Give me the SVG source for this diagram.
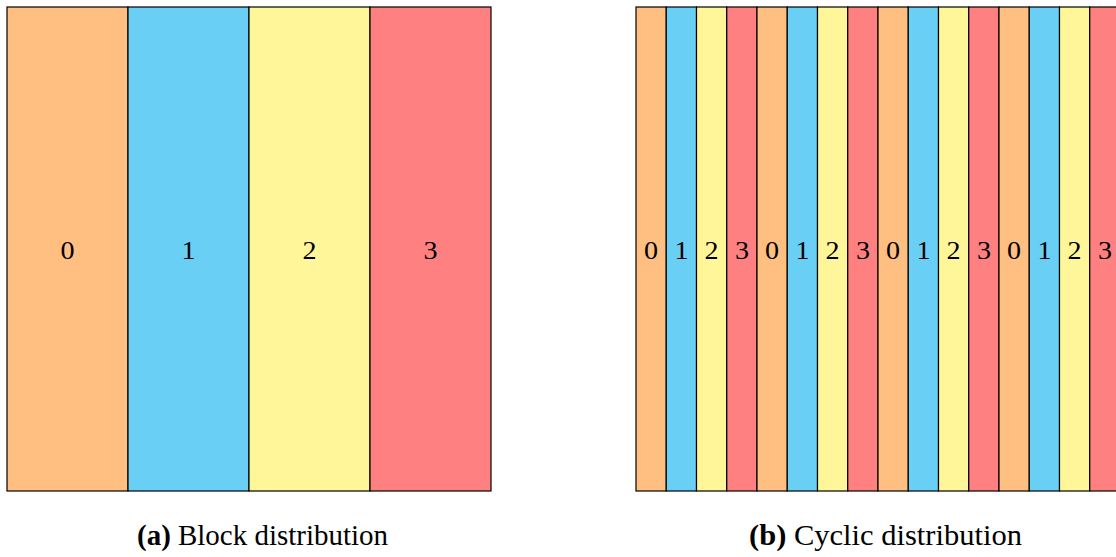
<svg xmlns="http://www.w3.org/2000/svg" width="1116" height="557" viewBox="0 0 1116 557">
<style>
rect{stroke:#000;stroke-width:1.2}
.c0{fill:#FFBF80}.c1{fill:#69CFF5}.c2{fill:#FFF599}.c3{fill:#FF8080}
text{font-family:"Liberation Serif","Times New Roman",serif;fill:#000}
.n{font-size:26px;text-anchor:middle}
.cap{font-size:29.5px}
</style>
<rect x="0" y="0" width="1116" height="557" style="fill:#fff;stroke:none"/>
<g id="block">
<g id="b0"><rect class="c0" x="7" y="7" width="121" height="484"/><text class="n" transform="translate(67.5,258.5) scale(1.08,1)">0</text></g>
<g id="b1"><rect class="c1" x="128" y="7" width="121" height="484"/><text class="n" transform="translate(188.5,258.5) scale(1.08,1)">1</text></g>
<g id="b2"><rect class="c2" x="249" y="7" width="121" height="484"/><text class="n" transform="translate(309.5,258.5) scale(1.08,1)">2</text></g>
<g id="b3"><rect class="c3" x="370" y="7" width="121" height="484"/><text class="n" transform="translate(430.5,258.5) scale(1.08,1)">3</text></g>
</g>
<g id="cyclic">
<g id="k0"><rect class="c0" x="636" y="7" width="30.25" height="484"/><text class="n" transform="translate(651.1,258.5) scale(1.08,1)">0</text></g>
<g id="k1"><rect class="c1" x="666.25" y="7" width="30.25" height="484"/><text class="n" transform="translate(681.4,258.5) scale(1.08,1)">1</text></g>
<g id="k2"><rect class="c2" x="696.5" y="7" width="30.25" height="484"/><text class="n" transform="translate(711.6,258.5) scale(1.08,1)">2</text></g>
<g id="k3"><rect class="c3" x="726.75" y="7" width="30.25" height="484"/><text class="n" transform="translate(741.9,258.5) scale(1.08,1)">3</text></g>
<g id="k4"><rect class="c0" x="757" y="7" width="30.25" height="484"/><text class="n" transform="translate(772.1,258.5) scale(1.08,1)">0</text></g>
<g id="k5"><rect class="c1" x="787.25" y="7" width="30.25" height="484"/><text class="n" transform="translate(802.4,258.5) scale(1.08,1)">1</text></g>
<g id="k6"><rect class="c2" x="817.5" y="7" width="30.25" height="484"/><text class="n" transform="translate(832.6,258.5) scale(1.08,1)">2</text></g>
<g id="k7"><rect class="c3" x="847.75" y="7" width="30.25" height="484"/><text class="n" transform="translate(862.9,258.5) scale(1.08,1)">3</text></g>
<g id="k8"><rect class="c0" x="878" y="7" width="30.25" height="484"/><text class="n" transform="translate(893.1,258.5) scale(1.08,1)">0</text></g>
<g id="k9"><rect class="c1" x="908.25" y="7" width="30.25" height="484"/><text class="n" transform="translate(923.4,258.5) scale(1.08,1)">1</text></g>
<g id="k10"><rect class="c2" x="938.5" y="7" width="30.25" height="484"/><text class="n" transform="translate(953.6,258.5) scale(1.08,1)">2</text></g>
<g id="k11"><rect class="c3" x="968.75" y="7" width="30.25" height="484"/><text class="n" transform="translate(983.9,258.5) scale(1.08,1)">3</text></g>
<g id="k12"><rect class="c0" x="999" y="7" width="30.25" height="484"/><text class="n" transform="translate(1014.1,258.5) scale(1.08,1)">0</text></g>
<g id="k13"><rect class="c1" x="1029.25" y="7" width="30.25" height="484"/><text class="n" transform="translate(1044.4,258.5) scale(1.08,1)">1</text></g>
<g id="k14"><rect class="c2" x="1059.5" y="7" width="30.25" height="484"/><text class="n" transform="translate(1074.6,258.5) scale(1.08,1)">2</text></g>
<g id="k15"><rect class="c3" x="1089.75" y="7" width="30.25" height="484"/><text class="n" transform="translate(1104.9,258.5) scale(1.08,1)">3</text></g>
</g>
<g id="captions">
<text class="cap" x="137" y="545" textLength="251" lengthAdjust="spacingAndGlyphs"><tspan font-weight="bold">(a)</tspan> Block distribution</text>
<text class="cap" x="749" y="545" textLength="273" lengthAdjust="spacingAndGlyphs"><tspan font-weight="bold">(b)</tspan> Cyclic distribution</text>
</g>
</svg>
